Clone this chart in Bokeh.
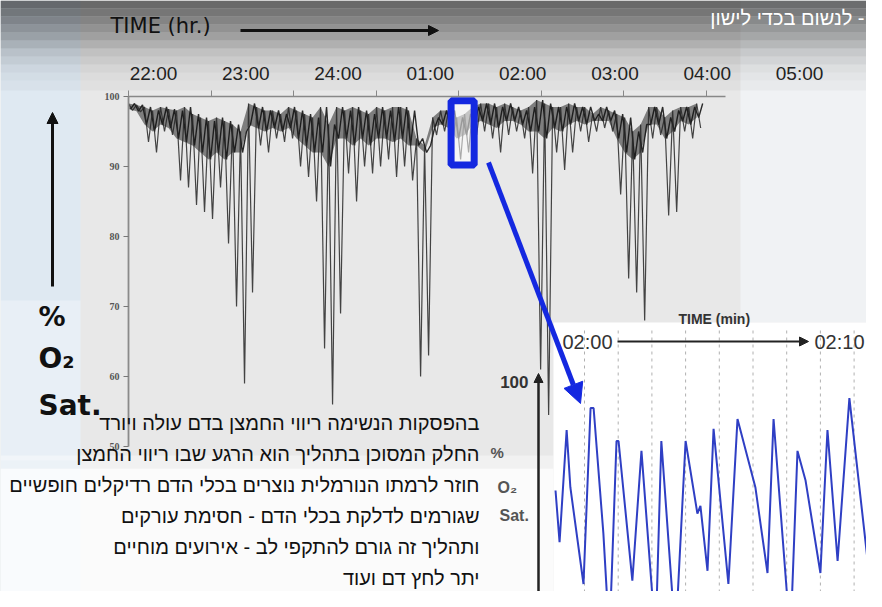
import numpy as np
from bokeh.plotting import figure
from bokeh.models import (Range1d, LinearAxis, FixedTicker, Label, Arrow, NormalHead,
                          BoxAnnotation)
from bokeh.embed import file_html
from bokeh.resources import INLINE

# ---------------- data ----------------
clock_ticks = [22, 23, 24, 25, 26, 27, 28, 29]
clock_labels = ["22:00", "23:00", "24:00", "01:00", "02:00", "03:00", "04:00", "05:00"]
o2_ticks = [50, 60, 70, 80, 90, 100]
chart_ticks = [0, 1, 2, 3, 4, 5, 6, 7]
sample_step = 0.097  # chart units between oximeter samples

o2_high = [99, 98.8, 98.5, 98, 98.5, 98.2, 98, 98.5, 97.5, 97, 96.5, 97, 96.5, 96, 95, 99,
           98.5, 98, 98, 97.5, 98.5, 98, 97.5, 97, 98.5, 96, 98.5, 98, 98.5, 98, 97.5, 98.5,
           98, 98.5, 98.5, 98, 94, 93, 97, 98, 98, 97, 97.5, 98.5, 99, 99, 98.5, 99,
           98.5, 98, 98.5, 99.5, 99, 98.5, 98.5, 99, 98.5, 98.5, 97.5, 98.5, 98, 97.5, 97, 95,
           96, 98.5, 98.5, 97, 98, 98.5, 98.5, 99]
o2_core = [98.2, 97.9, 96, 95, 96, 95.5, 94, 93.5, 93, 92, 91, 92, 91, 92, 92, 96,
           95.5, 95, 95.5, 95, 95.5, 94, 93, 92, 92, 90, 94, 94, 93, 94, 93, 94,
           94, 93.5, 94, 93, 93, 92, 95.5, 96, 95.5, 94, 94.5, 96, 96.5, 96, 95.5, 96.5,
           96.5, 96, 95, 95, 94, 95.5, 95, 96, 96.5, 96, 96.5, 96.5, 96.5, 94, 92, 91,
           92, 96, 96, 94, 95, 96.5, 96, 97]
o2_low = [98, 97.8, 93.5, 92, 95, 94.5, 88, 87, 84.5, 83.5, 82.5, 87, 79, 70, 59, 72,
          93, 92, 94, 93.5, 94, 90, 88.5, 85, 64, 56, 69, 89, 85, 90, 89, 90,
          91, 88.5, 90, 88, 60, 63, 94.5, 95, 94, 91, 92, 94.5, 95, 94, 92, 94.5,
          95, 94, 89, 61, 54.5, 92, 89.5, 92, 95, 93.5, 95, 95.5, 95, 86, 74, 72,
          68, 94, 94.5, 83, 83.5, 95, 94, 95.5]

zoom_t0, zoom_t1, zoom_lo, zoom_hi = 3.91, 4.19, 90.2, 99.4

inset_min = [-0.86, -0.74, -0.53, -0.42, -0.03, 0.18, 0.27, 0.56, 0.74, 0.95, 1.01, 1.42,
             1.69, 2.11, 2.28, 2.70, 3.00, 3.35, 3.44, 3.65, 3.83, 4.27, 4.54, 5.07,
             5.43, 5.61, 6.11, 6.32, 6.56, 7.00, 7.21, 7.51, 7.86, 8.49, 8.69, 8.85]
inset_o2 = [90.0, 85.3, 95.5, 90.3, 81.5, 97.5, 97.5, 86.1, 76.5, 94.5, 94.5, 81.8,
            93.6, 76.5, 94.5, 76.5, 94.5, 87.9, 88.6, 82.7, 95.6, 81.5, 96.5, 90.3,
            82.5, 96.5, 76.5, 93.6, 90.9, 82.5, 95.5, 83.6, 98.4, 81.2, 95.5, 94.0]
inset_grid = [0, 1, 2, 3, 4, 5, 6, 7, 8]
inset_time_labels = ["02:00", "02:10"]

title_text = "לנשום בכדי לישון -"
note_lines = [
    "בהפסקות הנשימה ריווי החמצן בדם עולה ויורד",
    "החלק המסוכן בתהליך הוא הרגע שבו ריווי החמצן",
    "חוזר לרמתו הנורמלית נוצרים בכלי הדם רדיקלים חופשיים",
    "שגורמים לדלקת בכלי הדם - חסימת עורקים",
    "ותהליך זה גורם להתקפי לב - אירועים מוחיים",
    "יתר לחץ דם ועוד",
]

# ---------------- layout (picture pixel frame) ----------------
W, H = 866, 591
X_LO, X_HI = 0, W
Y_TOP, Y_BOT = 0, H

MX0, MXS = 128, 82.5          # px of t=0, px per chart unit
MY0, MYS = 96, 7.0            # px of 100 %, px per %
CX0, CXS = 153, 92.29         # clock labels
IX0, IXS = 584, 33.7          # inset x
IY0, IYS = 380, 11.0          # inset y

p = figure(width=W, height=H, output_backend="svg", toolbar_location=None,
           x_range=Range1d(X_LO, X_HI), y_range=Range1d(Y_BOT, Y_TOP),
           x_axis_type=None, y_axis_type=None, min_border=0,
           background_fill_color="#e8e8e8", border_fill_color="#e8e8e8",
           outline_line_color=None)

p.extra_x_ranges = {
    "main_x": Range1d((X_LO - MX0) / MXS, (X_HI - MX0) / MXS),
    "clock": Range1d(22 + (X_LO - CX0) / CXS, 22 + (X_HI - CX0) / CXS),
    "inset_x": Range1d((X_LO - IX0) / IXS, (X_HI - IX0) / IXS),
}
p.extra_y_ranges = {
    "main_y": Range1d(100 - (Y_BOT - MY0) / MYS, 100 - (Y_TOP - MY0) / MYS),
    "inset_y": Range1d(100 - (Y_BOT - IY0) / IYS, 100 - (Y_TOP - IY0) / IYS),
}

def bg(left, right, top, bottom, color, alpha=1.0):
    p.add_layout(BoxAnnotation(left=left, right=right, top=top, bottom=bottom,
                               fill_color=color, fill_alpha=alpha, line_color=None,
                               level="underlay"))

# backgrounds
bg(X_LO, 80, Y_TOP, Y_BOT, "#dfe9f2")
bg(X_LO, 80, 300, 460, "white", 0.3)
bg(740, X_HI, Y_TOP, 322, "#f0f2f4")
for (t0, t1, a) in [(0, 8, .55), (8, 16, .49), (16, 24, .43), (24, 32, .37), (32, 40, .31),
                    (40, 48, .24), (48, 56, .17), (56, 64, .12), (64, 72, .08), (72, 80, .05),
                    (80, 90, .03)]:
    bg(X_LO, X_HI, t0, t1, "black", a)
bg(X_LO, 553, 455, 468, "white", 0.4)
bg(X_LO, 553, 468, Y_BOT, "white", 0.82)
bg(553, X_HI, 322, Y_BOT, "white", 1.0)

# ---------------- main oximetry trace ----------------
t = np.arange(len(o2_high)) * sample_step
n = len(t)
zx = np.empty(2 * n); zy = np.empty(2 * n)
zx[0::2] = t; zx[1::2] = t + sample_step / 2
zy[0::2] = o2_high; zy[1::2] = o2_low
cx = np.empty(2 * n); cy = np.empty(2 * n)
cx[0::2] = t + sample_step / 4; cx[1::2] = t + 3 * sample_step / 4
cy[0::2] = o2_core; cy[1::2] = o2_high

p.varea(x=t, y1=o2_core, y2=o2_high, fill_color="#262626", fill_alpha=0.55,
        x_range_name="main_x", y_range_name="main_y")
p.line(cx, cy, line_color="#141414", line_width=1.4, line_alpha=0.9,
       x_range_name="main_x", y_range_name="main_y")
p.line(zx, zy, line_color="#262626", line_width=1.2, line_alpha=0.85,
       x_range_name="main_x", y_range_name="main_y")

# highlight box
p.quad(left=[zoom_t0], right=[zoom_t1], bottom=[zoom_lo], top=[zoom_hi],
       fill_color="white", fill_alpha=0.55, line_color="#1428e0", line_width=7,
       x_range_name="main_x", y_range_name="main_y")

# main axes
yax = LinearAxis(y_range_name="main_y", fixed_location=MX0, bounds=(50, 100),
                 ticker=FixedTicker(ticks=o2_ticks))
yax.axis_line_color = "#8a8a8a"; yax.axis_line_width = 1.8
yax.major_tick_line_color = "#777"; yax.major_tick_out = 5; yax.major_tick_in = 0
yax.minor_tick_line_color = None
yax.major_label_text_font = "Liberation Sans Narrow"
yax.major_label_text_font_style = "bold"
yax.major_label_text_font_size = "10px"
yax.major_label_text_color = "#555"
yax.major_label_standoff = 4
p.add_layout(yax, "left")

tax = LinearAxis(x_range_name="main_x", y_range_name="main_y", fixed_location=100,
                 bounds=(0, 7.24), ticker=FixedTicker(ticks=chart_ticks))
tax.axis_line_color = "#888"; tax.axis_line_width = 1.5
tax.major_tick_line_color = "#888"; tax.major_tick_out = 6; tax.major_tick_in = 0
tax.minor_tick_line_color = None
tax.major_label_text_color = None
p.add_layout(tax, "above")

cax = LinearAxis(x_range_name="clock", fixed_location=91,
                 ticker=FixedTicker(ticks=clock_ticks),
                 major_label_overrides={k: v for k, v in zip(clock_ticks, clock_labels)})
cax.axis_line_color = None; cax.major_tick_line_color = None; cax.minor_tick_line_color = None
cax.major_label_text_font = "Liberation Sans"
cax.major_label_text_font_size = "19px"
cax.major_label_text_color = "#222"
cax.major_label_standoff = 2
p.add_layout(cax, "above")

# ---------------- inset ----------------
gtop = 100 - (330 - IY0) / IYS
gbot = 100 - (Y_BOT - IY0) / IYS
p.segment(x0=inset_grid, x1=inset_grid, y0=[gtop] * len(inset_grid), y1=[gbot] * len(inset_grid),
          line_color="#b0b0b0", line_width=1, line_dash="3 4",
          x_range_name="inset_x", y_range_name="inset_y")
p.line(inset_min, inset_o2, line_color="#2f3fc4", line_width=2,
       x_range_name="inset_x", y_range_name="inset_y")

# ---------------- annotations ----------------
def lab(x, y, text, size, color="#111", font="DejaVu Sans", style="normal", align="left"):
    p.add_layout(Label(x=x, y=y, text=text, text_font=font, text_font_size=size,
                       text_color=color, text_font_style=style, text_align=align,
                       text_baseline="middle"))

lab(110, 25, "TIME (hr.)", "21px")
p.add_layout(Arrow(x_start=240, y_start=30, x_end=438, y_end=30, line_width=3, line_color="#111",
                   end=NormalHead(size=10, fill_color="#111", line_color="#111")))
p.add_layout(Arrow(x_start=52, y_start=286, x_end=52, y_end=112, line_width=3, line_color="#111",
                   end=NormalHead(size=11, fill_color="#111", line_color="#111")))
lab(38, 316, "%", "27px", style="bold")
lab(38, 358, "O₂", "28px", style="bold")
lab(38, 405, "Sat.", "28px", style="bold")

lab(864, 17, title_text, "20px", color="white", font="Liberation Sans", align="right")

for i, line in enumerate(note_lines):
    lab(479, 422 + 31 * i, line, "20px", color="#111", font="Liberation Sans", align="right")

# blue zoom arrow
p.add_layout(Arrow(x_start=488, y_start=162, x_end=580, y_end=403, line_width=5,
                   line_color="#1428e0",
                   end=NormalHead(size=20, fill_color="#1428e0", line_color="#1428e0")))

# inset labels
lab(678, 318, "TIME (min)", "14px", color="#333", font="Liberation Sans", style="bold")
lab(562, 341, inset_time_labels[0], "20px", color="#333", font="Liberation Sans")
lab(864, 341, inset_time_labels[1], "20px", color="#333", font="Liberation Sans", align="right")
p.add_layout(Arrow(x_start=617, y_start=341, x_end=808, y_end=341, line_width=2, line_color="#222",
                   end=NormalHead(size=9, fill_color="#222", line_color="#222")))
p.add_layout(Arrow(x_start=538, y_start=Y_BOT, x_end=538, y_end=373, line_width=2.5,
                   line_color="#222", end=NormalHead(size=9, fill_color="#222", line_color="#222")))
lab(528, 381, "100", "17px", color="#333", font="Liberation Sans", style="bold", align="right")
lab(490, 452, "%", "15px", color="#555", font="Liberation Sans", style="bold")
lab(497, 487, "O₂", "16px", color="#555", font="Liberation Sans", style="bold")
lab(499, 515, "Sat.", "16px", color="#555", font="Liberation Sans", style="bold")

open("out.html", "w").write(file_html(p, INLINE))
